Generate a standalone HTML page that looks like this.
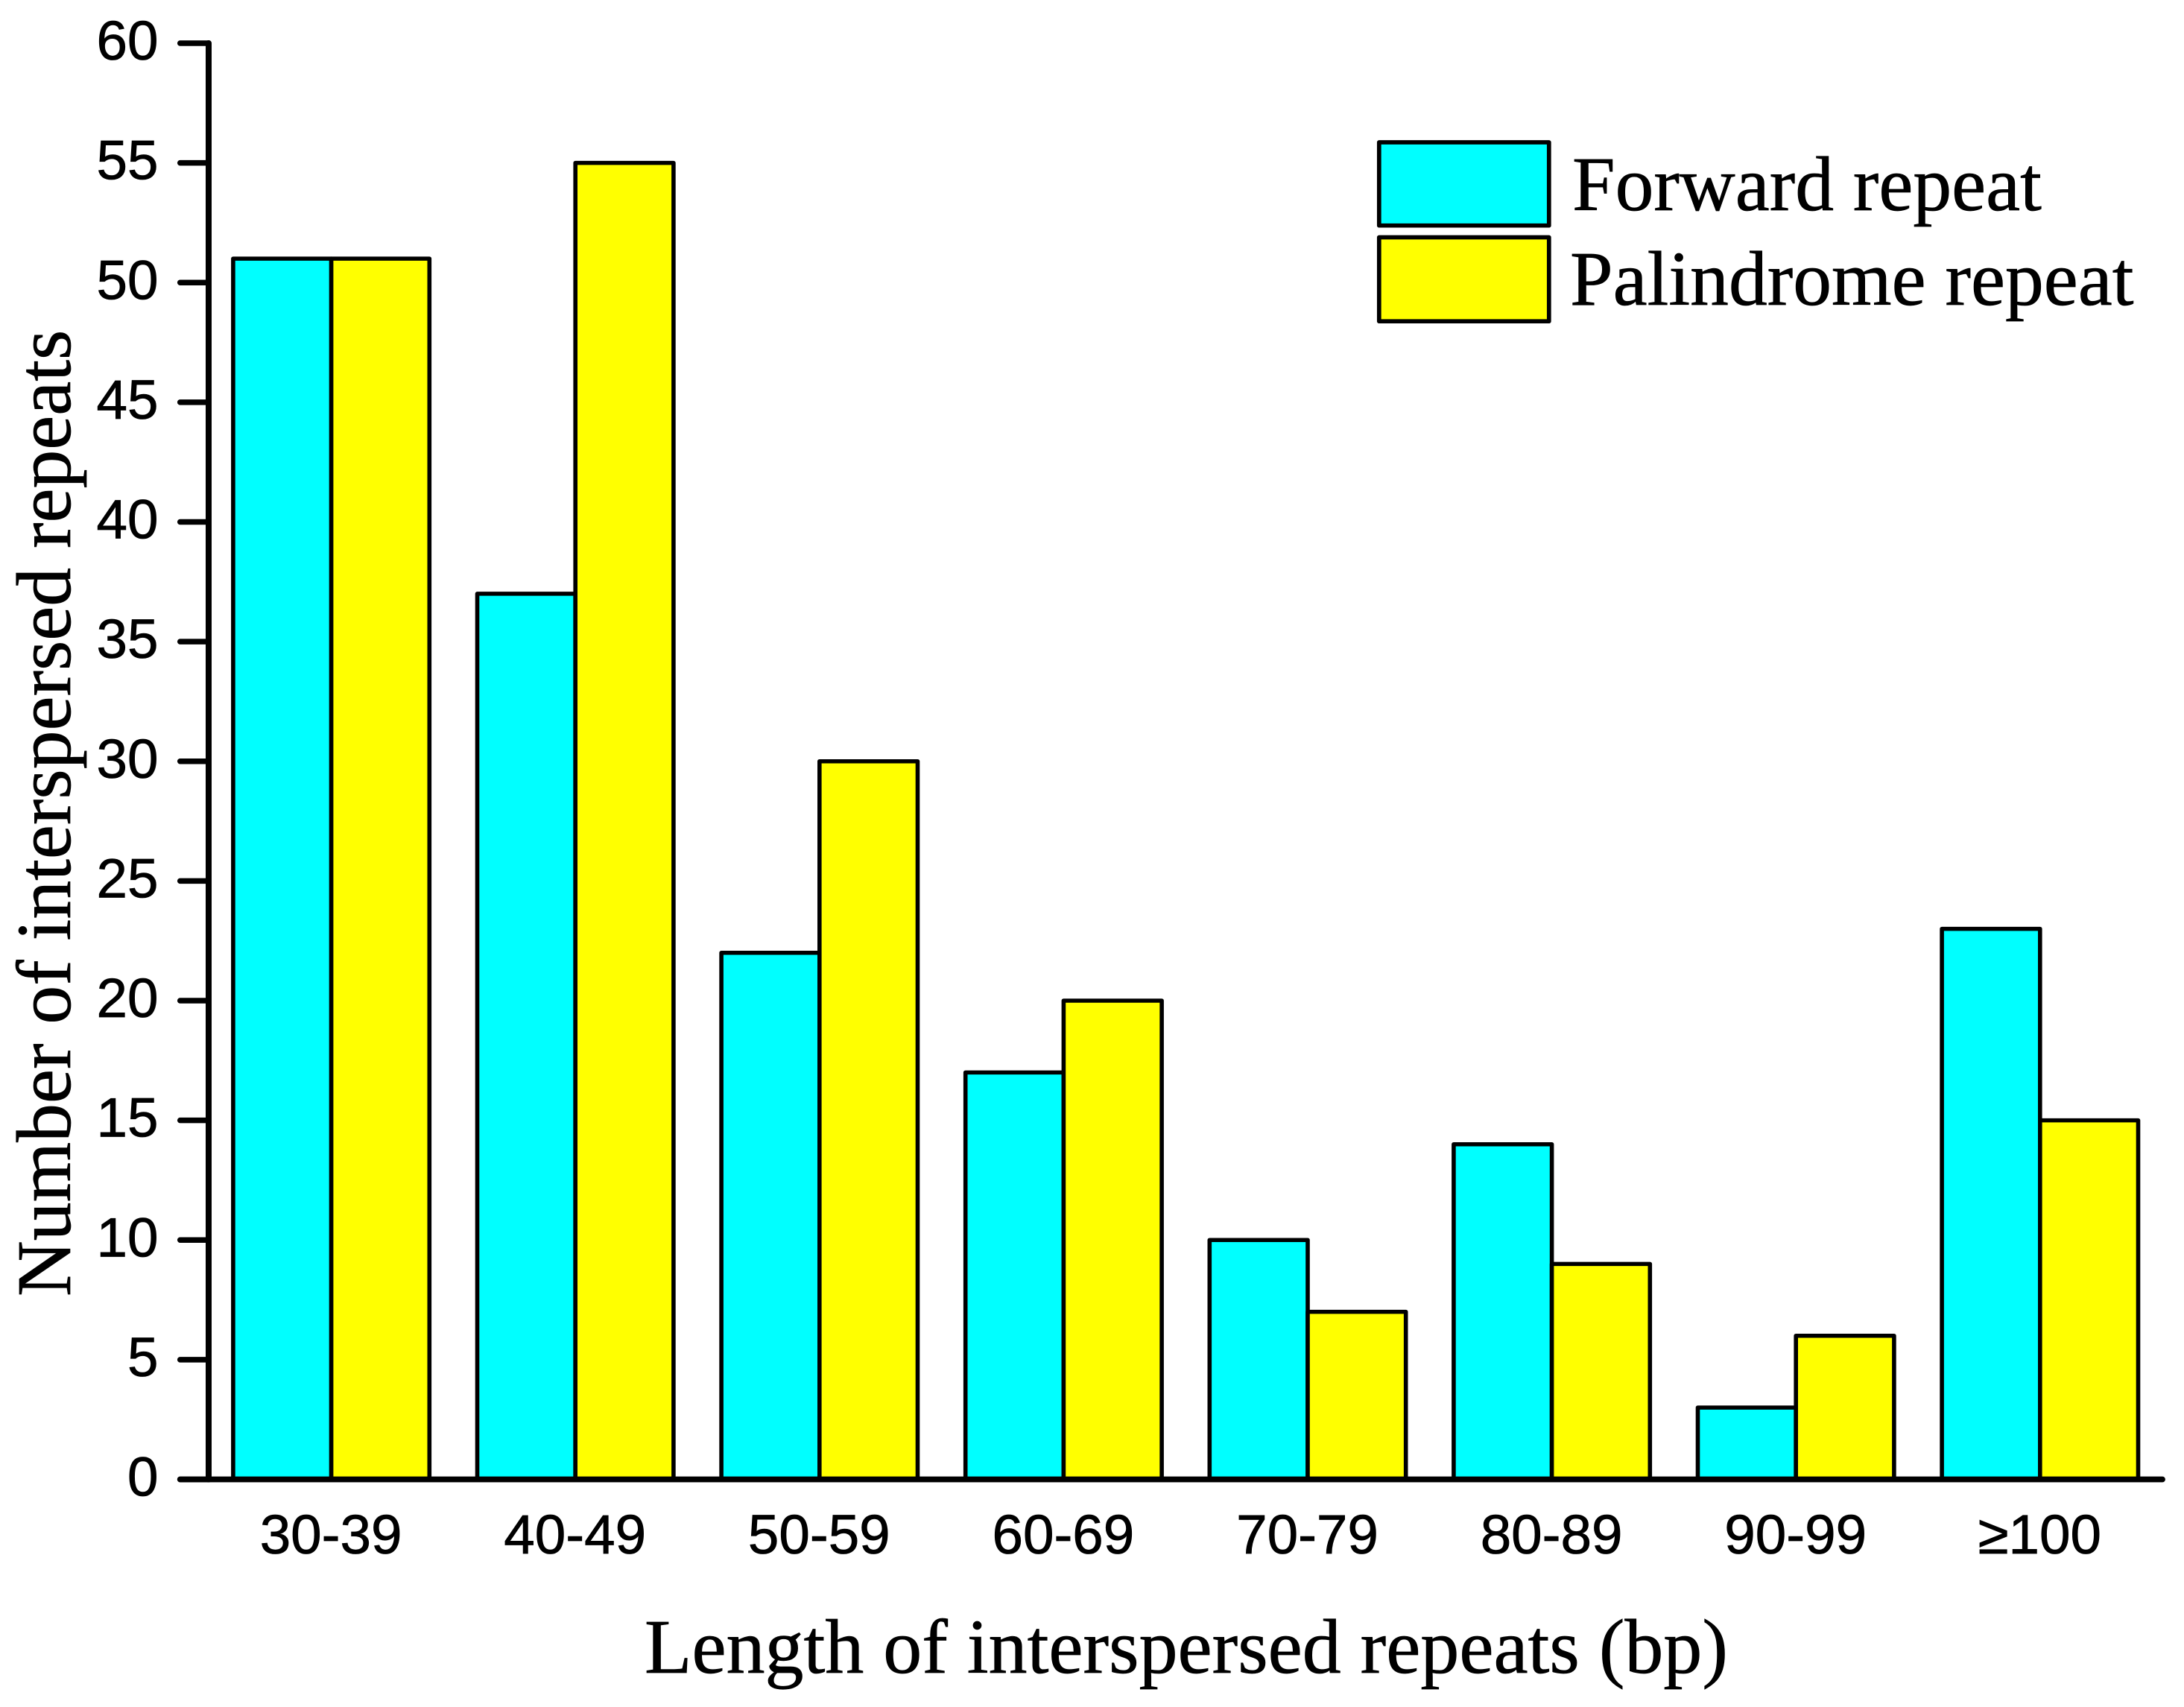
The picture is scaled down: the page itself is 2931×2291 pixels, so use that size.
<!DOCTYPE html>
<html lang="en">
<head>
<meta charset="utf-8">
<title>Length of interspersed repeats</title>
<style>
html,body{margin:0;padding:0;background:#fff;}
svg{display:block;}
.tick{font-family:"Liberation Sans",sans-serif;font-size:74.6px;fill:#000;stroke:#000;stroke-width:0.8px;}
.title{font-family:"Liberation Serif",serif;font-size:103.6px;fill:#000;stroke:#000;stroke-width:0.7px;}
</style>
</head>
<body>
<svg id="chart" xmlns="http://www.w3.org/2000/svg" width="2931" height="2291" viewBox="0 0 2931 2291">
<rect x="0" y="0" width="2931" height="2291" fill="#fff"/>
<g id="bars"></g>
<g id="axes"></g>
<text class="title" style="font-size:103.9px" x="865" y="2245">Length of interspersed repeats (bp)</text>
<text class="title" transform="translate(94,1740) rotate(-90)" x="0" y="0">Number of interspersed repeats</text>
<g>
<rect x="1850.8" y="191" width="228" height="111.7" fill="#00ffff" stroke="#000" stroke-width="5.7" stroke-linejoin="round"/>
<text class="title" x="2110" y="282">Forward repeat</text>
<rect x="1850.8" y="318.5" width="228" height="112.7" fill="#ffff00" stroke="#000" stroke-width="5.7" stroke-linejoin="round"/>
<text class="title" x="2107" y="409">Palindrome repeat</text>
</g>
</svg>
<script>
const categories = ['30-39','40-49','50-59','60-69','70-79','80-89','90-99','≥100'];
const forwardRepeat = [51,37,22,17,10,14,3,23];
const palindromeRepeat = [51,55,30,20,7,9,6,15];
const yTicks = [0,5,10,15,20,25,30,35,40,45,50,55,60];

const NS = 'http://www.w3.org/2000/svg';
const barsGroup = document.getElementById('bars');
const axesGroup = document.getElementById('axes');

const plot = {y0: 1985.5, yTop: 58, yMax: 60, firstCenter: 444.6, pitch: 327.6, barWidth: 131.7};
function yScale(v) { return plot.y0 - (v / plot.yMax) * (plot.y0 - plot.yTop); }
function xCenter(i) { return plot.firstCenter + i * plot.pitch; }

function make(tag, attrs) {
  const el = document.createElementNS(NS, tag);
  for (const k in attrs) el.setAttribute(k, attrs[k]);
  return el;
}

function drawBar(i, value, offset, fill, series) {
  const top = yScale(value);
  const el = make('rect', {x: xCenter(i) + offset, y: top, width: plot.barWidth, height: plot.y0 - top, fill: fill, stroke: '#000', 'stroke-width': 5.6, 'stroke-linejoin': 'round'});
  
  
  barsGroup.appendChild(el);
}

categories.forEach(function (cat, i) {
  drawBar(i, forwardRepeat[i], -plot.barWidth, '#00ffff', 'forward');
  drawBar(i, palindromeRepeat[i], 0, '#ffff00', 'palindrome');
  const label = make('text', {class: 'tick', x: xCenter(i) - 0.5, y: 2085, 'text-anchor': 'middle'});
  
  
  label.textContent = cat;
  axesGroup.appendChild(label);
});

yTicks.forEach(function (t) {
  const y = yScale(t);
  const line = make('line', {x1: 241.7, x2: 280, y1: y, y2: y, stroke: '#000', 'stroke-width': 7.5, 'stroke-linecap': 'round'});
  
  
  axesGroup.appendChild(line);
  const label = make('text', {class: 'tick', x: 212.5, y: y + 22, 'text-anchor': 'end'});
  
  
  label.textContent = t;
  axesGroup.appendChild(label);
});

const yAxis = make('line', {x1: 280, x2: 280, y1: plot.yTop, y2: plot.y0, stroke: '#000', 'stroke-width': 8, 'stroke-linecap': 'round'});


axesGroup.appendChild(yAxis);

const xAxis = make('line', {x1: 241.7, x2: 2902, y1: plot.y0, y2: plot.y0, stroke: '#000', 'stroke-width': 7.8, 'stroke-linecap': 'round'});


axesGroup.appendChild(xAxis);
</script>
</body>
</html>
